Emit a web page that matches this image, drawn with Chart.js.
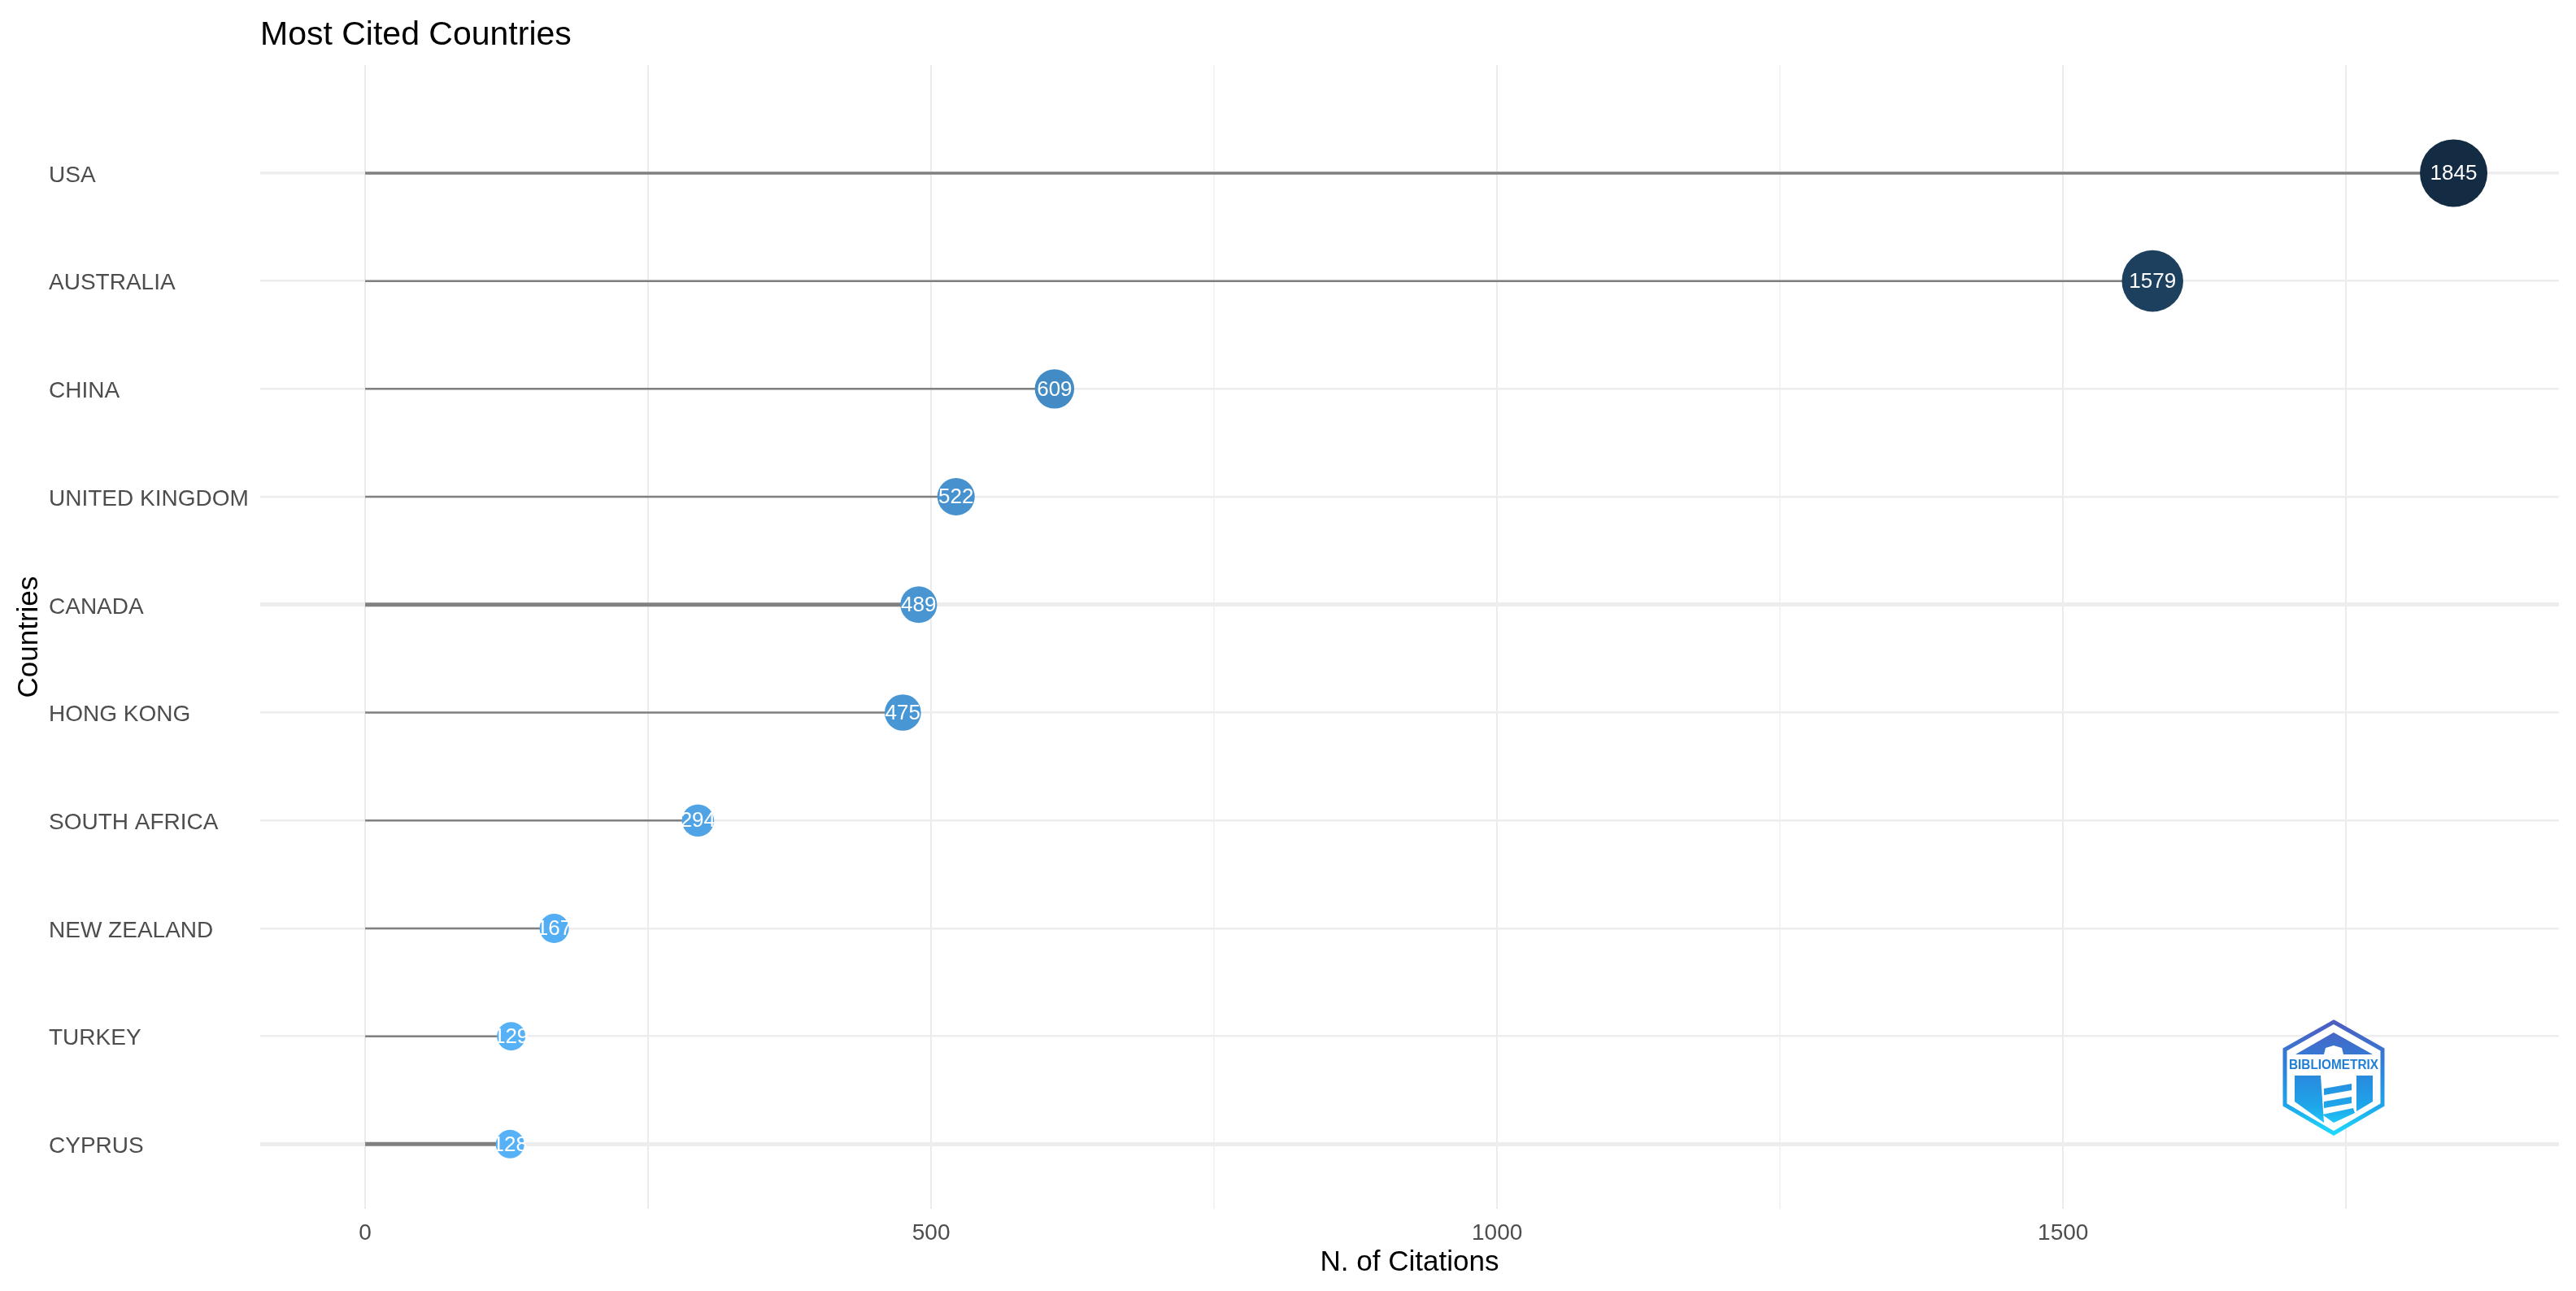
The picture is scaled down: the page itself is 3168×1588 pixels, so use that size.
<!DOCTYPE html>
<html>
<head>
<meta charset="utf-8">
<title>Most Cited Countries</title>
<script src="https://cdn.jsdelivr.net/npm/chart.js@4"></script>
<style>
    html, body { margin: 0; padding: 0; background: #fff; }
    #wrap { position: relative; width: 3168px; height: 1588px; overflow: hidden; }
    #logo { position: absolute; left: 2805px; top: 1252px; width: 130px; height: 147px; }
</style>
</head>
<body>
<div id="wrap">
    <canvas id="chart" width="3168" height="1588"></canvas>
    <!-- Bibliometrix badge -->
    <svg id="logo" viewBox="-3 -3 130 147">
        <defs>
            <linearGradient id="badge" gradientUnits="userSpaceOnUse" x1="0" y1="0" x2="0" y2="141">
                <stop offset="0" stop-color="#4f5cc0"/>
                <stop offset="0.45" stop-color="#2a86dc"/>
                <stop offset="0.75" stop-color="#1ea6ea"/>
                <stop offset="1" stop-color="#1fdcff"/>
            </linearGradient>
        </defs>
        <polygon points="62,2 122,36 122,104 62,139 2,104 2,36" fill="#fff" stroke="url(#badge)" stroke-width="5"/>
        <polygon points="62,15 110,42 74,42 72,34 62,31 52,34 50,42 15,42" fill="url(#badge)"/>
        <text x="62" y="60" text-anchor="middle" font-family="Liberation Sans" font-weight="bold" font-size="16" textLength="110" lengthAdjust="spacingAndGlyphs" fill="#1f7fd8">BIBLIOMETRIX</text>
        <polygon points="14,68 46,68 50,126 14,100" fill="url(#badge)"/>
        <polygon points="90,68 110,68 110,100 90,112" fill="url(#badge)"/>
        <polygon points="62,126 48,116 86,108 88,114" fill="url(#badge)"/>
        <polygon points="50,84 84,78 84,86 50,92" fill="url(#badge)"/>
        <polygon points="50,100 84,94 84,102 50,108" fill="url(#badge)"/>
    </svg>
</div>
<script>
// Datos
const countries = ['USA', 'AUSTRALIA', 'CHINA', 'UNITED KINGDOM', 'CANADA', 'HONG KONG', 'SOUTH AFRICA', 'NEW ZEALAND', 'TURKEY', 'CYPRUS'];
const citations = [1845, 1579, 609, 522, 489, 475, 294, 167, 129, 128];
const xTicks = [0, 250, 500, 750, 1000, 1250, 1500, 1750];
const xTickLabels = ['0', '', '500', '', '1000', '', '1500', ''];
const rows = [0, 1, 2, 3, 4, 5, 6, 7, 8, 9];

const maxCited = Math.max(...citations);
const minCited = Math.min(...citations);

// Bubble size and colour follow the value
function share(v) {
    return (v - minCited) / (maxCited - minCited);
}
function bubbleRadius(v) {
    return 17.5 + 24 * share(v);
}
function bubbleColor(v) {
    const t = share(v);
    const r = Math.round(0x56 + (0x13 - 0x56) * t);
    const g = Math.round(0xB1 + (0x2B - 0xB1) * t);
    const b = Math.round(0xF7 + (0x43 - 0xF7) * t);
    return `rgb(${r}, ${g}, ${b})`;
}
// Thicker rows of the reference image
function rowWidth(i) {
    if (i === 4 || i === 9) return 5;
    if (i === 0) return 3.5;
    return 2.5;
}

const points = citations.map((v, i) => ({ x: v, y: rows[i] }));

const datasets = [{
    label: 'N. of Citations',
    data: points,
    showLine: false,
    order: 0,
    pointRadius: ctx => bubbleRadius(ctx.raw.x),
    pointHoverRadius: ctx => bubbleRadius(ctx.raw.x),
    pointBackgroundColor: ctx => bubbleColor(ctx.raw.x),
    pointBorderWidth: 0
}];

rows.forEach(i => {
    datasets.push({
        label: countries[i],
        data: [{ x: 0, y: i }, { x: citations[i], y: i }],
        showLine: true,
        order: 1,
        borderColor: '#808080',
        borderWidth: rowWidth(i),
        pointRadius: 0
    });
});

// White value inside each bubble
const valueLabels = {
    id: 'valueLabels',
    afterDatasetsDraw(chart) {
        const ctx = chart.ctx;
        const x = chart.scales.x;
        const y = chart.scales.y;
        ctx.save();
        ctx.fillStyle = '#fff';
        ctx.font = '26px "Liberation Sans"';
        ctx.textAlign = 'center';
        ctx.textBaseline = 'middle';
        citations.forEach((v, i) => {
            ctx.fillText(String(v), x.getPixelForValue(v), y.getPixelForValue(rows[i]) + 1);
        });
        ctx.restore();
    }
};

Chart.defaults.font.family = '"Liberation Sans"';

new Chart(document.getElementById('chart').getContext('2d'), {
    type: 'scatter',
    data: { datasets: datasets },
    plugins: [valueLabels],
    options: {
        responsive: false,
        animation: false,
        // the big bubbles would otherwise shrink the plot area
        layout: { autoPadding: false, padding: { right: 21 } },
        plugins: {
            legend: { display: false },
            tooltip: { enabled: false },
            title: {
                display: true,
                text: 'Most Cited Countries',
                align: 'start',
                fullSize: false,
                color: '#000',
                font: { size: 41, weight: 'normal' },
                padding: { top: 19, bottom: 12 }
            }
        },
        scales: {
            x: {
                type: 'linear',
                min: -92.7,
                max: 1938,
                afterBuildTicks: scale => { scale.ticks = xTicks.map(v => ({ value: v })); },
                afterFit: scale => {
                    scale.height = 101;
                    scale.paddingLeft = 0;
                    scale.paddingRight = 0;
                },
                grid: {
                    color: ctx => (ctx.tick && (ctx.tick.value === 750 || ctx.tick.value === 1250)) ? '#f3f3f3' : '#ebebeb',
                    lineWidth: 2,
                    drawTicks: false
                },
                border: { display: false },
                ticks: {
                    color: '#4d4d4d',
                    font: { size: 28 },
                    padding: 13,
                    maxRotation: 0,
                    autoSkip: false,
                    callback: value => xTickLabels[xTicks.indexOf(value)]
                },
                title: {
                    display: true,
                    text: 'N. of Citations',
                    color: '#000',
                    font: { size: 35 },
                    padding: { top: 0, bottom: 14 }
                }
            },
            y: {
                type: 'linear',
                reverse: true,
                min: -1,
                max: 9.6,
                weight: 0,
                afterBuildTicks: scale => { scale.ticks = rows.map(v => ({ value: v })); },
                afterFit: scale => { scale.width = 260; },
                grid: {
                    color: '#ededed',
                    lineWidth: ctx => rowWidth(ctx.tick ? ctx.tick.value : 0),
                    drawTicks: false
                },
                border: { display: false },
                ticks: {
                    color: '#4d4d4d',
                    font: { size: 28 },
                    crossAlign: 'far',
                    autoSkip: false,
                    labelOffset: 3,
                    callback: value => countries[value]
                }
            },
            yTitle: {
                type: 'linear',
                position: 'left',
                min: 0,
                max: 1,
                weight: 1,
                afterFit: scale => { scale.width = 60; },
                grid: { display: false },
                border: { display: false },
                ticks: { display: false },
                title: {
                    display: true,
                    text: 'Countries',
                    color: '#000',
                    font: { size: 35 },
                    padding: { top: 15, bottom: 0 }
                }
            }
        }
    }
});
</script>
</body>
</html>
